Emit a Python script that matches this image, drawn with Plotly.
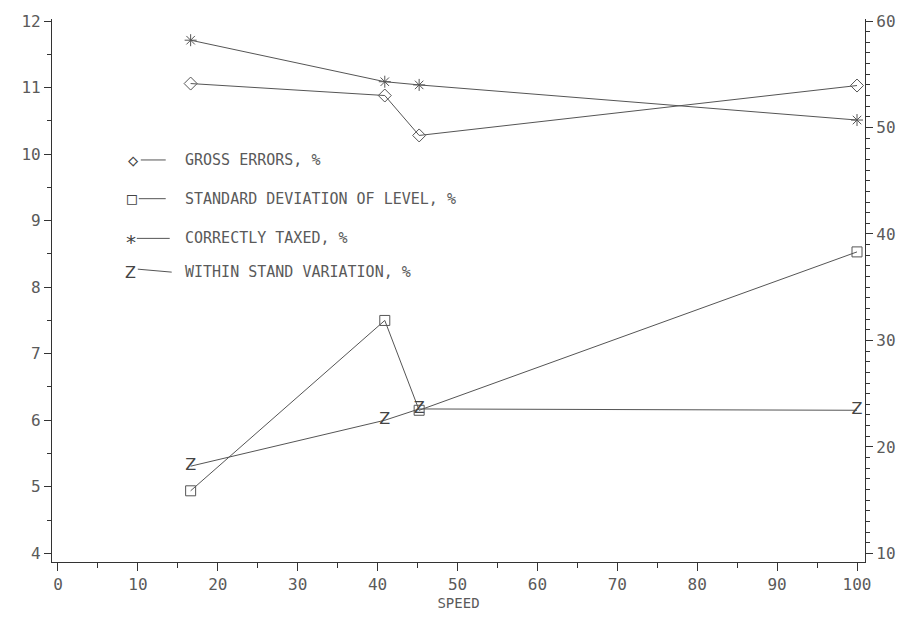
import plotly.graph_objects as go

# ---- data ----
speed = [16.6, 40.9, 45.2, 100]
gross_errors = [11.06, 10.88, 10.28, 11.03]          # left axis
std_dev_level = [4.94, 7.50, 6.15, 8.53]             # left axis
correctly_taxed = [58.2, 54.3, 54.0, 50.7]           # right axis
within_stand = [5.31, 6.00, 6.17, 6.15]              # left axis

x_ticks = [0, 10, 20, 30, 40, 50, 60, 70, 80, 90, 100]
left_ticks = [4, 5, 6, 7, 8, 9, 10, 11, 12]
right_ticks = [10, 20, 30, 40, 50, 60]

legend_labels = ["GROSS ERRORS, %", "STANDARD DEVIATION OF LEVEL, %",
                 "CORRECTLY TAXED, %", "WITHIN STAND VARIATION, %"]

FONT = "DejaVu Sans Mono"
LINE = "#555555"
TXT = "#5a5a5a"

fig = go.Figure()

fig.add_trace(go.Scatter(
    x=speed, y=gross_errors, mode="lines+markers", name=legend_labels[0],
    line=dict(color=LINE, width=1),
    marker=dict(symbol="diamond-open", size=10, color=LINE, line=dict(width=1)),
))
fig.add_trace(go.Scatter(
    x=speed, y=std_dev_level, mode="lines+markers", name=legend_labels[1],
    line=dict(color=LINE, width=1),
    marker=dict(symbol="square-open", size=10, color=LINE, line=dict(width=1)),
))
fig.add_trace(go.Scatter(
    x=speed, y=correctly_taxed, mode="lines+markers", name=legend_labels[2],
    yaxis="y2",
    line=dict(color=LINE, width=1),
    marker=dict(symbol="asterisk-open", size=10, color=LINE, line=dict(width=1, color=LINE)),
))
fig.add_trace(go.Scatter(
    x=speed, y=within_stand, mode="lines+text", name=legend_labels[3],
    text=["Z"] * len(speed), textposition="middle center",
    textfont=dict(family="DejaVu Sans", size=16, color="#444"),
    line=dict(color=LINE, width=1),
))

# ---- manual legend (paper coordinates) ----
L, R, T, B = 52, 867, 15, 562
W, H = R - L, B - T
def px(xp):
    return (xp - L) / W
def py(yp):
    return (B - yp) / H

rows = [157, 196, 236, 270]
symbols = ["◇", "□", "*", "Z"]
sym_sizes = [17, 16, 20, 16]
sym_fonts = [FONT, FONT, FONT, "DejaVu Sans"]
sym_x = [134, 132, 131, 131]
sym_dy = [0, 0, 4, 0]
line_spans = [(141, 166), (139, 166), (137, 170), (138, 172)]
for i, (yy, lab) in enumerate(zip(rows, legend_labels)):
    fig.add_annotation(x=px(183), y=py(yy), xref="paper", yref="paper",
                       text=lab, showarrow=False, xanchor="left", yanchor="middle",
                       font=dict(family=FONT, size=15, color=TXT))
    fig.add_annotation(x=px(sym_x[i]), y=py(yy + sym_dy[i]), xref="paper", yref="paper",
                       text=symbols[i], showarrow=False, xanchor="center", yanchor="middle",
                       font=dict(family=sym_fonts[i], size=sym_sizes[i], color="#444"))
    x0, x1 = line_spans[i]
    fig.add_shape(type="line", xref="paper", yref="paper",
                  x0=px(x0), x1=px(x1), y0=py(yy - (3 if i == 3 else 0)), y1=py(yy),
                  line=dict(color=LINE, width=1))

axis_common = dict(
    showline=True, linecolor="#333", linewidth=1.2, ticks="outside",
    tickcolor="#333", showgrid=False, zeroline=False,
    tickfont=dict(family=FONT, size=16, color=TXT),
)

fig.update_layout(
    width=908, height=636,
    margin=dict(l=L, r=908 - R, t=T, b=636 - B),
    paper_bgcolor="white", plot_bgcolor="white",
    showlegend=False,
    xaxis=dict(range=[-0.75, 101], tickvals=x_ticks, ticklen=8,
               minor=dict(dtick=5, tick0=0, ticklen=5, ticks="outside", tickcolor="#333", showgrid=False),
               title=dict(text="SPEED", font=dict(family=FONT, size=14, color=TXT), standoff=4),
               **axis_common),
    yaxis=dict(range=[3.87, 12.03], tickvals=left_ticks, ticklen=7,
               minor=dict(dtick=0.5, tick0=0, ticklen=4, ticks="outside", tickcolor="#333", showgrid=False),
               **axis_common),
    yaxis2=dict(range=[9.19, 60.19], tickvals=right_ticks, ticklen=7, overlaying="y", side="right",
                minor=dict(dtick=1, tick0=0, ticklen=4, ticks="outside", tickcolor="#333", showgrid=False),
                **axis_common),
)

fig.write_html("out.html")
